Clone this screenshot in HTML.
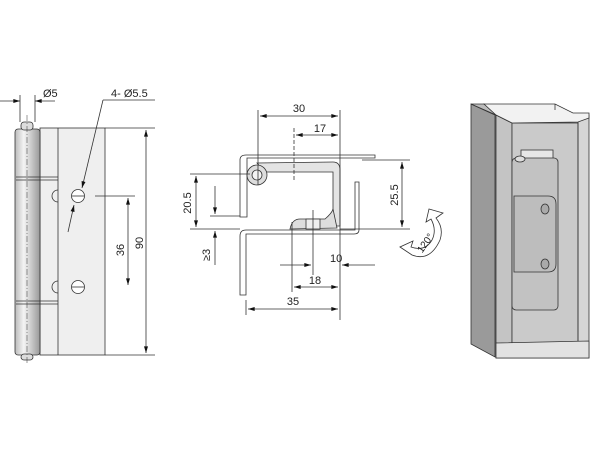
<!DOCTYPE html>
<html><head><style>body{margin:0;background:#fff}svg{display:block}text{font-family:"Liberation Sans",sans-serif;fill:#222}</style></head><body>
<svg width="600" height="450" viewBox="0 0 600 450" xmlns="http://www.w3.org/2000/svg">
<defs>
<marker id="a" viewBox="0 0 10 6" refX="10" refY="3" markerWidth="9" markerHeight="5" orient="auto-start-reverse"><path d="M0,0L10,3L0,6z" fill="#111"/></marker>
<linearGradient id="pin" x1="0" x2="1"><stop offset="0" stop-color="#bbb"/><stop offset=".35" stop-color="#f4f4f4"/><stop offset="1" stop-color="#999"/></linearGradient>
</defs>
<g stroke="#333" stroke-width="0.8" fill="none">
<!-- LEFT VIEW -->
<rect x="40" y="128" width="65" height="227" fill="#efefef"/>
<line x1="58" y1="128" x2="58" y2="355"/>
<rect x="15" y="129" width="25" height="226" rx="3" fill="url(#pin)"/>
<rect x="21" y="122" width="12" height="8" rx="3" fill="#ddd"/>
<rect x="21" y="354" width="12" height="6" rx="3" fill="#ddd"/>
<line x1="16" y1="177" x2="58" y2="177"/><line x1="16" y1="180" x2="58" y2="180"/>
<line x1="16" y1="301" x2="58" y2="301"/><line x1="16" y1="304" x2="58" y2="304"/>
<line x1="27" y1="115" x2="27" y2="365" stroke-dasharray="6 2 1 2" stroke-width="0.5"/>
<circle cx="78" cy="196" r="6.5" fill="#fff"/><line x1="72" y1="196" x2="84" y2="196"/>
<circle cx="78" cy="287" r="6.5" fill="#fff"/><line x1="72" y1="287" x2="84" y2="287"/>
<path d="M58 190a6 6 0 0 0 0 12M58 281a6 6 0 0 0 0 12"/>
<line x1="105" y1="128" x2="155" y2="128"/><line x1="105" y1="355" x2="155" y2="355"/>
<line x1="146" y1="130" x2="146" y2="353" marker-start="url(#a)" marker-end="url(#a)"/>
<line x1="95" y1="196" x2="135" y2="196"/>
<line x1="128" y1="198" x2="128" y2="285" marker-start="url(#a)" marker-end="url(#a)"/>
<line x1="20" y1="95" x2="20" y2="122"/><line x1="35" y1="95" x2="35" y2="122"/>
<line x1="0" y1="101" x2="20" y2="101" marker-end="url(#a)"/><line x1="55" y1="101" x2="35" y2="101" marker-end="url(#a)"/>
<line x1="155" y1="100" x2="103" y2="100"/>
<line x1="103" y1="100" x2="82" y2="188" marker-end="url(#a)"/>
<line x1="68" y1="232" x2="74" y2="205" marker-end="url(#a)"/>
<!-- MIDDLE VIEW -->
<path d="M257 163L333 162Q340 162 340 170L340 226L333 226L333 172L265 172Z" fill="#e4e4e4"/>
<path d="M240 217L240 160Q240 155 246 155L375 155L375 158L247 158L247 217Z" fill="#fff"/>
<path d="M240 295L240 236Q240 230 246 230L355 230L355 182L359 182L359 230Q359 234 354 234L246 234L246 295Z" fill="#fff"/>
<circle cx="257" cy="175" r="10" fill="#ddd"/><circle cx="257" cy="175" r="5" fill="#f4f4f4"/>
<path d="M290 229Q292 219 300 219L325 219Q332 213 333 209L337 228Z" fill="#ddd"/>
<rect x="306" y="219" width="14" height="10" fill="#eee"/>
<line x1="258" y1="110" x2="258" y2="185"/><line x1="340" y1="110" x2="340" y2="320"/>
<line x1="260" y1="116" x2="338" y2="116" marker-start="url(#a)" marker-end="url(#a)"/>
<line x1="294" y1="128" x2="294" y2="180" stroke-dasharray="4 2"/>
<line x1="296" y1="135" x2="338" y2="135" marker-end="url(#a)" marker-start="url(#a)"/>
<line x1="362" y1="160" x2="410" y2="160"/><line x1="340" y1="229" x2="410" y2="229"/>
<line x1="402" y1="162" x2="402" y2="227" marker-start="url(#a)" marker-end="url(#a)"/>
<line x1="190" y1="174" x2="250" y2="174"/><line x1="190" y1="229" x2="240" y2="229"/>
<line x1="196" y1="176" x2="196" y2="227" marker-start="url(#a)" marker-end="url(#a)"/>
<line x1="210" y1="216" x2="240" y2="216"/>
<line x1="215" y1="186" x2="215" y2="214" marker-end="url(#a)"/>
<line x1="215" y1="265" x2="215" y2="231" marker-end="url(#a)"/>
<line x1="313" y1="210" x2="313" y2="275"/><line x1="292" y1="222" x2="292" y2="292"/>
<line x1="280" y1="265" x2="311" y2="265" marker-end="url(#a)"/><line x1="375" y1="265" x2="342" y2="265" marker-end="url(#a)"/>
<line x1="294" y1="287" x2="338" y2="287" marker-start="url(#a)" marker-end="url(#a)"/>
<line x1="246" y1="300" x2="246" y2="315"/>
<line x1="248" y1="309" x2="338" y2="309" marker-start="url(#a)" marker-end="url(#a)"/>
<path d="M400 247L412 255Q430 262 440 240Q444 228 436 218L443 213L429 209L426 222L431 219Q437 230 432 240Q425 252 411 247L413 241Z" fill="#fff"/>
<!-- RIGHT 3D -->
<path d="M471 104L495 115L495 357L471 344Z" fill="#9a9a9a"/>
<path d="M471 104L484 104L496 110L496 115Z" fill="#bbb"/>
<rect x="496" y="115" width="93" height="243" fill="#d6d6d6"/>
<path d="M496 115L512 123L512 345L496 343Z" fill="#c4c4c4"/>
<rect x="512" y="123" width="66" height="222" fill="#cacaca"/>
<path d="M484 104L555 104L573 113L589 113L589 118L578 122L512 123L496 115Z" fill="#f2f2f2"/>
<line x1="555" y1="104" x2="555" y2="110"/>
<line x1="578" y1="122" x2="578" y2="345"/>
<path d="M496 343L589 341L589 358L496 358Z" fill="#e2e2e2"/>
<rect x="521" y="150" width="32" height="12" fill="#e6e6e6"/>
<rect x="512" y="158" width="46" height="152" rx="4" fill="#c2c2c2"/>
<path d="M514 196L548 196Q556 196 556 204L556 264Q556 272 548 272L514 272Z" fill="#bdbdbd"/>
<ellipse cx="545" cy="209" rx="4" ry="5" fill="#aaa"/><ellipse cx="545" cy="264" rx="4" ry="5" fill="#aaa"/>
<ellipse cx="520" cy="159" rx="5" ry="3" fill="#ddd"/>
</g>
<g font-size="11">
<text x="43" y="97">Ø5</text>
<text x="111" y="97">4- Ø5.5</text>
<text transform="translate(124,250) rotate(-90)" text-anchor="middle">36</text>
<text transform="translate(143,243) rotate(-90)" text-anchor="middle">90</text>
<text x="299" y="112" text-anchor="middle">30</text>
<text x="320" y="132" text-anchor="middle">17</text>
<text transform="translate(191,203) rotate(-90)" text-anchor="middle">20.5</text>
<text transform="translate(210,255) rotate(-90)" text-anchor="middle">≥3</text>
<text transform="translate(398,195) rotate(-90)" text-anchor="middle">25.5</text>
<text x="330" y="262">10</text>
<text x="315" y="284" text-anchor="middle">18</text>
<text x="293" y="305" text-anchor="middle">35</text>
<text transform="translate(428,245) rotate(-55)" font-size="10" text-anchor="middle">120°</text>
</g>
</svg>
</body></html>
